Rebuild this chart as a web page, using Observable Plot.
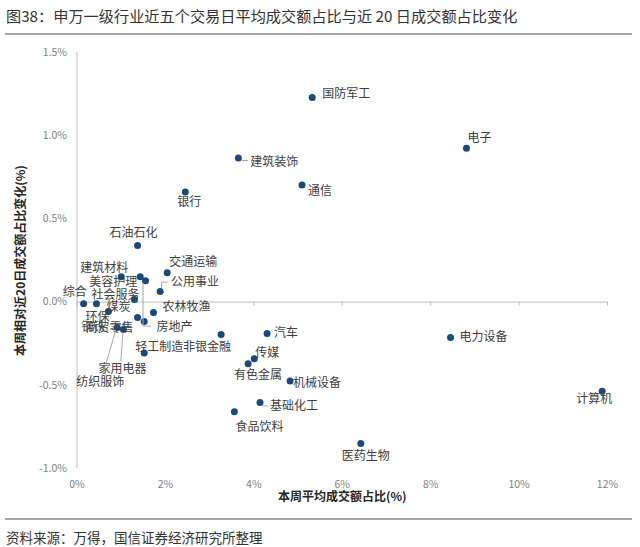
<!DOCTYPE html>
<html><head><meta charset="utf-8">
<script src="https://cdn.jsdelivr.net/npm/d3@7"></script>
<script src="https://cdn.jsdelivr.net/npm/@observablehq/plot@0.6"></script>
<style>
body{margin:0;background:#fff;font-family:"Noto Sans CJK SC","Noto Sans",sans-serif;width:640px;height:547px;overflow:hidden;}
#title{height:35px;box-sizing:border-box;margin:0 8px 5px 5px;padding:5px 0 0 1px;line-height:20px;font-size:15.2px;color:#333;border-bottom:2.5px solid #a6a6a6;white-space:nowrap;}
#chart{height:478px;}
#chart svg{display:block;}
#caption{margin:0 8px 0 5px;border-top:2px solid #a6a6a6;padding:7px 0 0 1px;line-height:20px;font-size:13.5px;color:#333;white-space:nowrap;}
</style></head>
<body>
<div id="title">图38：申万一级行业近五个交易日平均成交额占比与近 20 日成交额占比变化</div>
<div id="chart"></div>
<div id="caption">资料来源：万得，国信证券经济研究所整理</div>
<script>
const industries = ["国防军工","电子","建筑装饰","通信","银行","石油石化","交通运输","公用事业","建筑材料","美容护理","房地产","社会服务","综合","环保","煤炭","商贸零售","钢铁","纺织服饰","家用电器","农林牧渔","轻工制造","非银金融","汽车","传媒","有色金属","机械设备","基础化工","食品饮料","医药生物","电力设备","计算机"];
const avgShare = [5.32,8.81,3.65,5.09,2.45,1.37,2.04,1.88,1.00,1.43,1.55,1.30,0.15,0.44,0.71,1.37,1.52,0.91,1.05,1.73,1.52,3.26,4.30,4.01,3.87,4.82,4.14,3.56,6.42,8.45,11.88];
const shareChange = [1.23,0.925,0.866,0.703,0.662,0.340,0.177,0.063,0.153,0.153,0.129,0.015,-0.010,-0.010,-0.057,-0.093,-0.117,-0.153,-0.165,-0.063,-0.306,-0.195,-0.189,-0.340,-0.370,-0.474,-0.603,-0.659,-0.850,-0.212,-0.536];
const xTicks = [0,2,4,6,8,10,12];
const yTicks = [-1.0,-0.5,0.0,0.5,1.0,1.5];
const xTitle = "本周平均成交额占比(%)";
const yTitle = "本周相对近20日成交额占比变化(%)";

// label placement (anchor, dx, dy in px) — layout only
const labelPos = {
  "国防军工":["start",10,-3],"电子":["start",1,-10],"建筑装饰":["start",12,4],"通信":["start",6,6],
  "银行":["middle",4,10],"石油石化":["middle",-4,-12],"交通运输":["start",2,-10],"公用事业":["start",11,-9],
  "建筑材料":["middle",-17,-8],"美容护理":["middle",-27,6],"房地产":["start",11,47],"社会服务":["middle",-19,-4],
  "综合":["middle",-9,-12],"环保":["middle",1,13],"煤炭":["middle",10,-4],"商贸零售":["middle",-28,11],
  "钢铁":["middle",-51,6],"纺织服饰":["middle",-17,55],"家用电器":["middle",-1,40],"农林牧渔":["start",9,-5],
  "轻工制造":["middle",15,-6],"非银金融":["middle",-14,13],"汽车":["start",7,0],"传媒":["middle",13,-6],
  "有色金属":["middle",10,11],"机械设备":["start",3,2],"基础化工":["start",10,4],"食品饮料":["middle",25,15],
  "医药生物":["middle",5,13],"电力设备":["start",9,0],"计算机":["middle",-8,8]
};
const leaders = {
  "建筑装饰":[[4,3],[10,3]],
  "公用事业":[[2,-3],[2,-9],[8,-9]],
  "房地产":[[-2,3],[-2,46],[6,46]],
  "基础化工":[[3,4],[8,4]],
  "纺织服饰":[[-1,3],[-14,48]],
  "家用电器":[[0,3],[-2,32]]
};

const data = industries.map((name,i)=>({name, x:avgShare[i], y:shareChange[i]}));
const font = '"Noto Sans CJK SC","Noto Sans",sans-serif';
const axisGray = "#bfbfbf";

const plot = Plot.plot({
  width: 640, height: 478,
  marginTop: 12, marginBottom: 50, marginLeft: 76.5, marginRight: 33,
  style: {fontFamily: font, fontSize: "10.5px", color: "#7f7f7f", background: "#fff"},
  x: {domain:[0,12], ticks: xTicks, tickFormat: d => d + "%", tickSize: 0, tickPadding: 12, label: null},
  y: {domain:[-1,1.5], ticks: yTicks, tickFormat: d => d.toFixed(1) + "%", tickSize: 0, tickPadding: 10, label: null},
  marks: [
    Plot.ruleX([0], {stroke: axisGray}),
    Plot.ruleY([0], {stroke: axisGray}),
    Plot.ruleX(xTicks, {x: d => d, y1: 0, y2: 0, insetBottom: -4, stroke: axisGray}),
    Plot.dot(data, {x:"x", y:"y", r:3.5, fill:"#1b4a7a"}),
    ...data.map(d => {
      const [a, dx, dy] = labelPos[d.name];
      return Plot.text([d], {x:"x", y:"y", text:"name", textAnchor:a, dx, dy, fontSize:12, fill:"#404040", fontFamily: font});
    }),
    Plot.text([xTitle], {frameAnchor:"bottom", lineAnchor:"middle", textAnchor:"middle", dy:29, fontSize:12, fontWeight:"bold", fill:"#262626", fontFamily: font}),
    Plot.text([yTitle], {frameAnchor:"left", lineAnchor:"middle", textAnchor:"middle", dx:-56, rotate:-90, fontSize:12, fontWeight:"bold", fill:"#262626", fontFamily: font})
  ]
});

const sx = plot.scale("x"), sy = plot.scale("y");
const g = d3.select(plot).append("g").attr("stroke","#a6a6a6").attr("fill","none").attr("stroke-width",1);
for (const [name, pts] of Object.entries(leaders)) {
  const i = industries.indexOf(name);
  const px = sx.apply(avgShare[i]), py = sy.apply(shareChange[i]);
  g.append("path").attr("d", "M" + pts.map(([dx,dy]) => `${px+dx},${py+dy}`).join("L"));
}
document.getElementById("chart").appendChild(plot);
</script>
</body></html>
